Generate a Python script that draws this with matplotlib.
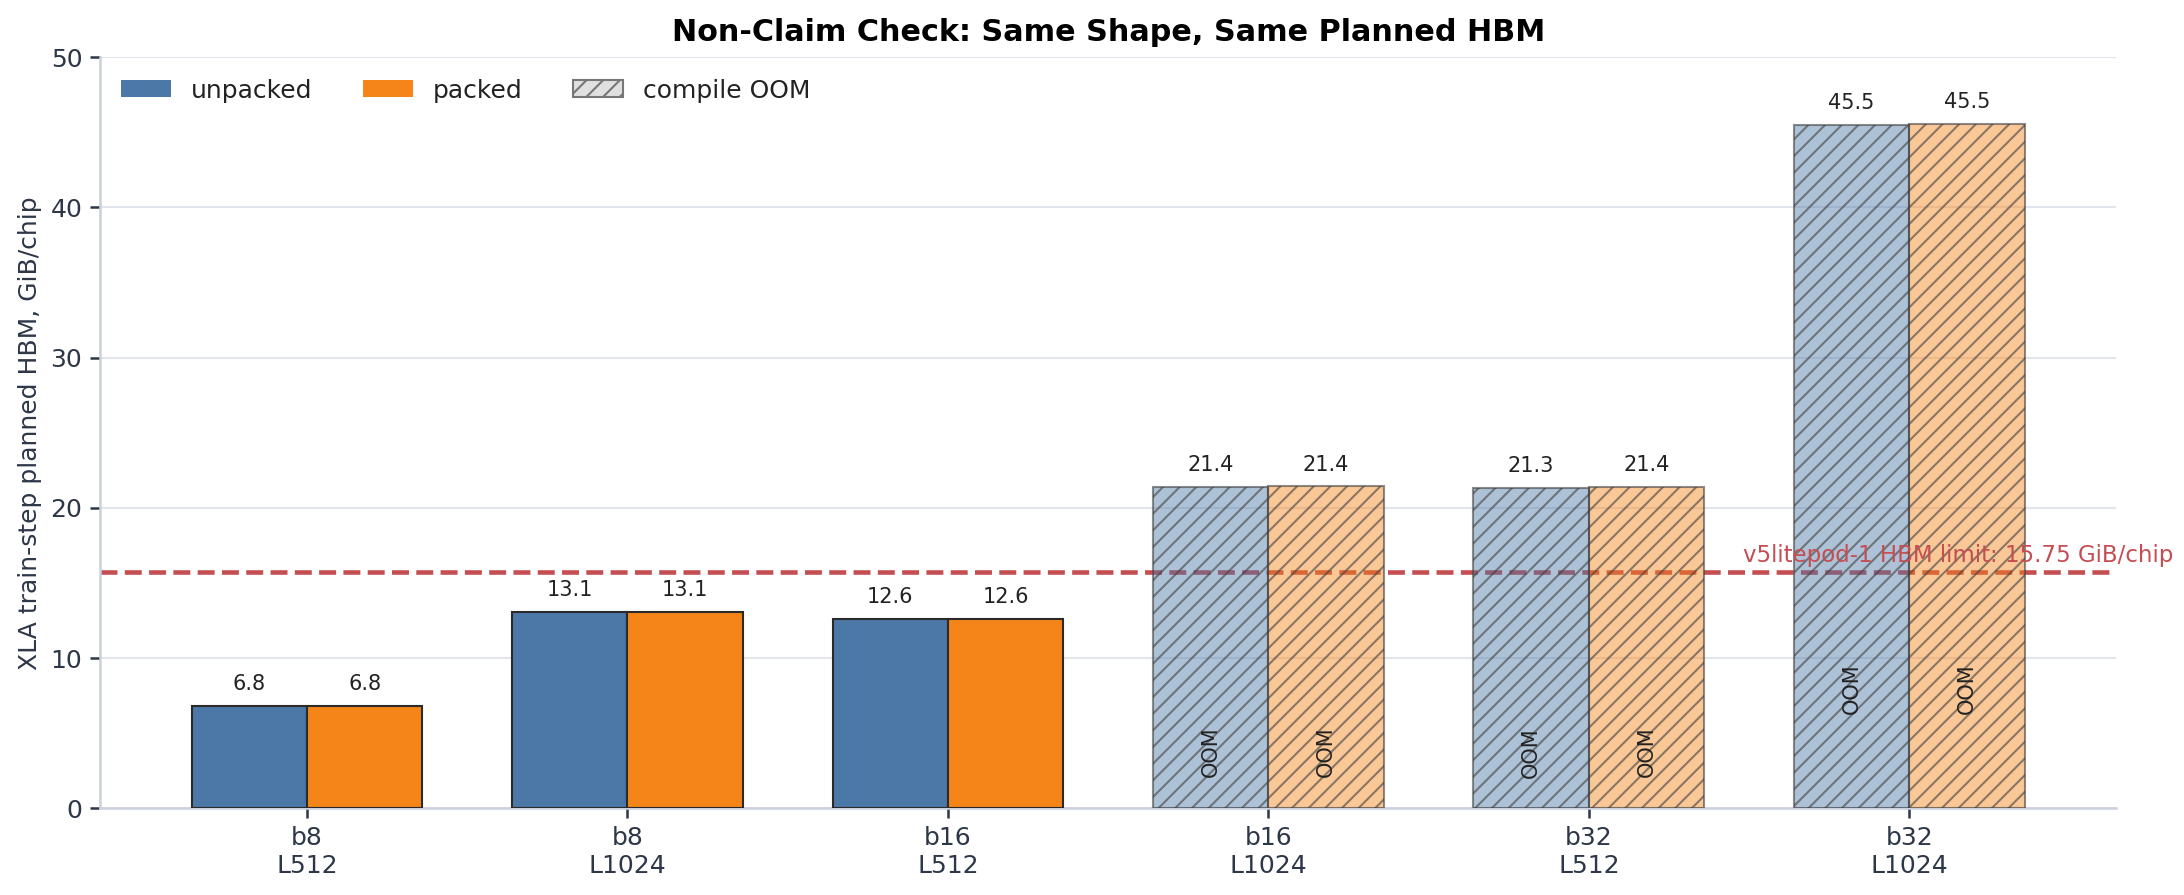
import numpy as np
import matplotlib
matplotlib.use('Agg')
import matplotlib.pyplot as plt
from matplotlib.patches import Patch

# ----
# Data
# ----
configs = ['b8\nL512', 'b8\nL1024', 'b16\nL512', 'b16\nL1024', 'b32\nL512', 'b32\nL1024']
unpacked = [6.82, 13.08, 12.58, 21.40, 21.32, 45.50]
packed = [6.82, 13.08, 12.58, 21.42, 21.38, 45.55]
oom = [False, False, False, True, True, True]
hbm_limit = 15.75

C_UNPACKED = '#4c78a8'
C_PACKED = '#f58518'
C_TEXT = '#2d3748'
C_SPINE = '#cbd0dc'
C_LIMIT = '#c44e52'

# ----------------
# Generate figure
# ----------------
fig, ax = plt.subplots(figsize=(14.56, 5.967), dpi=150)
fig.subplots_adjust(left=0.0458, right=0.969, bottom=0.097, top=0.936)

x = np.arange(len(configs))
w = 0.36

ax.axhline(hbm_limit, color=C_LIMIT, ls='--', lw=2.2, zorder=1)
ax.text(4.48, hbm_limit + 0.3, f'v5litepod-1 HBM limit: {hbm_limit} GiB/chip',
        color=C_LIMIT, fontsize=11, ha='left', va='bottom', zorder=5)

for vals, color, off in [(unpacked, C_UNPACKED, -w / 2), (packed, C_PACKED, w / 2)]:
    for i, v in enumerate(vals):
        if oom[i]:
            ax.bar(x[i] + off, v, w, color=color, alpha=0.45, zorder=3)
            ax.bar(x[i] + off, v, w, facecolor='none', edgecolor=(0.25, 0.25, 0.25, 0.6),
                   hatch='///', lw=1.0, zorder=4)
            ax.text(x[i] + off, v * 0.175, 'OOM', rotation=90, ha='center', va='center',
                    fontsize=10, color='#222222', zorder=5)
        else:
            ax.bar(x[i] + off, v, w, color=color, edgecolor='#2a2a2a', lw=1.0, zorder=3)
        ax.text(x[i] + off, v + 0.8, f'{v:.1f}', ha='center', va='bottom',
                fontsize=10, color='#222222', zorder=5)

ax.set_ylim(0, 50)
ax.set_xticks(x)
ax.set_xticklabels(configs)
ax.set_ylabel('XLA train-step planned HBM, GiB/chip', fontsize=12, color=C_TEXT)
ax.set_title('Non-Claim Check: Same Shape, Same Planned HBM', fontsize=14.5,
             fontweight='bold', pad=8)

ax.tick_params(axis='both', labelsize=12, colors=C_TEXT, length=5, width=1.2)
ax.grid(axis='y', color='#e3e5ec', lw=1.0, zorder=0)
ax.set_axisbelow(True)
ax.spines['top'].set_visible(False)
ax.spines['right'].set_visible(False)
ax.spines['left'].set_color(C_SPINE)
ax.spines['bottom'].set_color(C_SPINE)
ax.spines['left'].set_linewidth(1.2)
ax.spines['bottom'].set_linewidth(1.2)

handles = [Patch(facecolor=C_UNPACKED, label='unpacked'),
           Patch(facecolor=C_PACKED, label='packed'),
           Patch(facecolor='#e0e0e0', edgecolor='#777777', hatch='///', label='compile OOM')]
leg = ax.legend(handles=handles, loc='upper left', ncol=3, frameon=False, fontsize=12,
                columnspacing=2.0, handlelength=2.0, borderaxespad=0.45)
for t in leg.get_texts():
    t.set_color('#222222')

plt.savefig('out.png', dpi=150)
